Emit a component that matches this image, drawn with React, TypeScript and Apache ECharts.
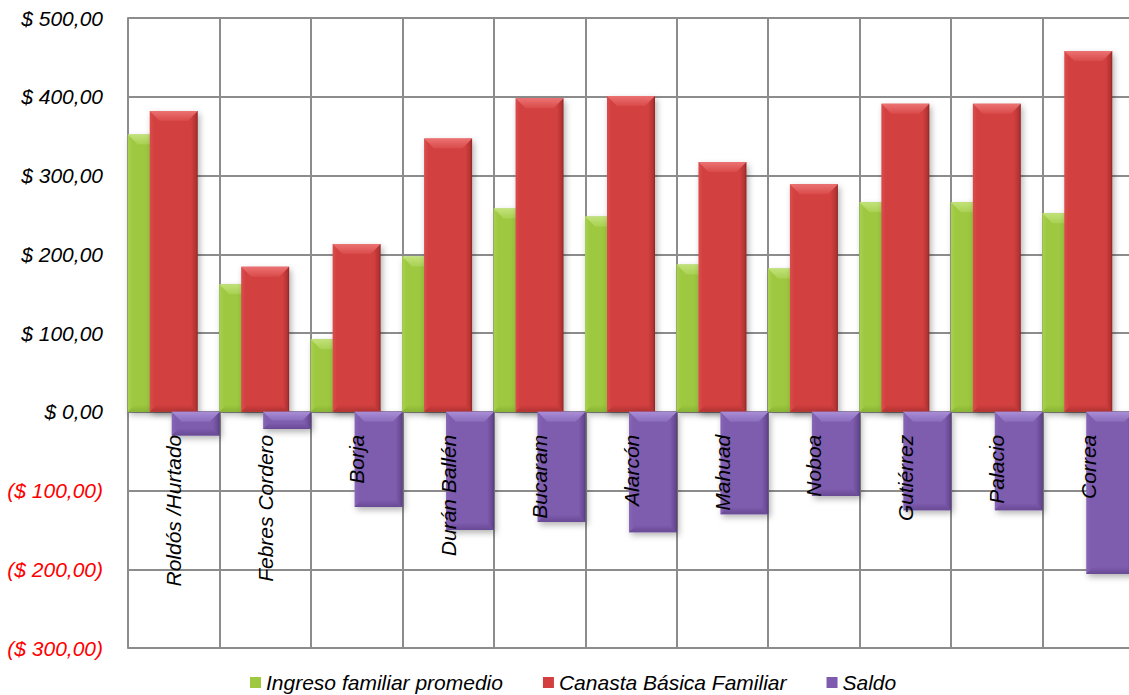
import React, { useEffect, useRef } from "react";
import * as echarts from "echarts";

// Presidential periods
const categories = [
  "Roldós /Hurtado",
  "Febres Cordero",
  "Borja",
  "Durán Ballén",
  "Bucaram",
  "Alarcón",
  "Mahuad",
  "Noboa",
  "Gutiérrez",
  "Palacio",
  "Correa",
];

// Average family income (USD)
const ingreso = [352, 162, 92, 197, 258, 248, 187, 182, 266, 266, 252];
// Basic family basket (USD)
const canasta = [382, 184, 213, 347, 398, 401, 317, 289, 391, 391, 458];
// Balance = income - basket
const saldo = [-30, -22, -121, -150, -140, -153, -130, -107, -125, -125, -206];

const FONT = "'Liberation Sans', Arial, sans-serif";

// Bar width and horizontal step between the overlapping bars, as shares of a category
const BAR_SHARE = 0.525;
const STEP_SHARE = 0.24;

type Palette = { main: string; light: string; top: string; topEnd: string; dark: string; bottom: string };

const GREEN: Palette = {
  main: "#9dc83f", light: "#a9d150", top: "#c2e27a", topEnd: "#a9d152", dark: "#7aa22c", bottom: "#8ab535",
};
const RED: Palette = {
  main: "#d33f3f", light: "#da4d4d", top: "#ec7272", topEnd: "#d94a4a", dark: "#8c2424", bottom: "#b33333",
};
const PURPLE: Palette = {
  main: "#7e5bae", light: "#8767b6", top: "#a98ed7", topEnd: "#8a6cbb", dark: "#563b80", bottom: "#684a94",
};

// Beveled bar drawn from the axis scales
function bevelBar(slot: number, pal: Palette) {
  return (params: any, api: any) => {
    const idx = api.value(0);
    const val = api.value(1);
    const base = api.coord([idx, 0]);
    const end = api.coord([idx, val]);
    const catW = api.size([1, 0])[0];
    const w = catW * BAR_SHARE;
    const step = catW * STEP_SHARE;
    const groupW = w + 2 * step;
    const x = base[0] - groupW / 2 + slot * step;
    const y0 = Math.min(base[1], end[1]);
    const y1 = Math.max(base[1], end[1]);
    const h = y1 - y0;
    const b = Math.min(10, h / 2);
    const bb = Math.min(7, h / 3);
    return {
      type: "group",
      children: [
        {
          type: "rect",
          shape: { x, y: y0, width: w, height: h },
          style: {
            fill: new echarts.graphic.LinearGradient(0, 0, 1, 0, [
              { offset: 0, color: pal.light },
              { offset: 0.1, color: pal.main },
              { offset: 0.86, color: pal.main },
              { offset: 0.96, color: pal.bottom },
              { offset: 1, color: pal.dark },
            ]),
            shadowBlur: 6,
            shadowOffsetX: 2,
            shadowOffsetY: 3,
            shadowColor: "rgba(0,0,0,0.3)",
          },
        },
        {
          type: "polygon",
          shape: {
            points: [
              [x, y0],
              [x + w, y0],
              [x + w - b, y0 + b],
              [x + b, y0 + b],
            ],
          },
          style: {
            fill: new echarts.graphic.LinearGradient(0, 0, 0, 1, [
              { offset: 0, color: pal.top },
              { offset: 1, color: pal.topEnd },
            ]),
          },
        },
        {
          type: "polygon",
          shape: {
            points: [
              [x, y1],
              [x + w, y1],
              [x + w - bb, y1 - bb],
              [x + bb, y1 - bb],
            ],
          },
          style: {
            fill: new echarts.graphic.LinearGradient(0, 0, 0, 1, [
              { offset: 0, color: pal.main },
              { offset: 1, color: pal.bottom },
            ]),
          },
        },
      ],
    };
  };
}

export default function App() {
  const ref = useRef<HTMLDivElement>(null);

  useEffect(() => {
    if (!ref.current) return;
    const chart = echarts.init(ref.current, null, { renderer: "svg" });
    chart.setOption({
      animation: false,
      backgroundColor: "#ffffff",
      grid: {
        left: 128,
        top: 18,
        bottom: 47,
        right: -5,
        outerBoundsMode: "none",
        containLabel: false,
      },
      legend: {
        left: 245,
        top: 667,
        icon: "rect",
        itemWidth: 11,
        itemHeight: 11,
        itemGap: 40,
        textStyle: {
          fontFamily: FONT,
          fontStyle: "italic",
          fontSize: 21,
          color: "#000",
        },
        data: ["Ingreso familiar promedio", "Canasta Básica Familiar", "Saldo"],
      },
      xAxis: {
        type: "category",
        data: categories,
        axisLine: { onZero: true, lineStyle: { color: "#8c8c8c", width: 2 } },
        axisTick: { show: false },
        splitLine: {
          show: true,
          interval: 0,
          lineStyle: { color: "#8c8c8c", width: 2 },
        },
        axisLabel: { show: false },
      },
      yAxis: {
        type: "value",
        min: -300,
        max: 500,
        interval: 100,
        axisLine: { show: true, lineStyle: { color: "#8c8c8c", width: 2 } },
        axisTick: { show: false },
        splitLine: { lineStyle: { color: "#8c8c8c", width: 2 } },
        axisLabel: {
          margin: 25,
          fontFamily: FONT,
          fontStyle: "italic",
          fontSize: 21,
          color: (v: any) => (Number(v) < 0 ? "#ff0000" : "#000000"),
          formatter: (v: number) =>
            v < 0 ? `($ ${Math.abs(v)},00)` : `$ ${v},00`,
        },
      },
      series: [
        {
          name: "Ingreso familiar promedio",
          type: "custom",
          data: ingreso.map((v, i) => [i, v]),
          itemStyle: { color: GREEN.main },
          renderItem: bevelBar(0, GREEN),
          z: 2,
        },
        {
          name: "Canasta Básica Familiar",
          type: "custom",
          data: canasta.map((v, i) => [i, v]),
          itemStyle: { color: RED.main },
          renderItem: bevelBar(1, RED),
          z: 3,
        },
        {
          name: "Saldo",
          type: "custom",
          data: saldo.map((v, i) => [i, v]),
          itemStyle: { color: PURPLE.main },
          renderItem: bevelBar(2, PURPLE),
          z: 4,
        },
        // Category names hung vertically just below the zero line
        {
          name: "categoryLabels",
          type: "scatter",
          data: categories.map((c) => [c, 0]),
          symbolSize: 0,
          silent: true,
          z: 10,
          itemStyle: { opacity: 1 },
          label: {
            show: true,
            position: "bottom",
            distance: 23,
            rotate: 90,
            align: "right",
            verticalAlign: "middle",
            formatter: (p: any) => p.value[0],
            fontFamily: FONT,
            fontStyle: "italic",
            fontSize: 21,
            color: "#000000",
            opacity: 1,
            textBorderWidth: 0,
            textBorderColor: "transparent",
          },
        },
      ],
    });
    return () => chart.dispose();
  }, []);

  return (
    <div
      ref={ref}
      style={{
        position: "absolute",
        left: 0,
        top: 0,
        width: 1129,
        height: 695,
        overflow: "hidden",
      }}
    />
  );
}
